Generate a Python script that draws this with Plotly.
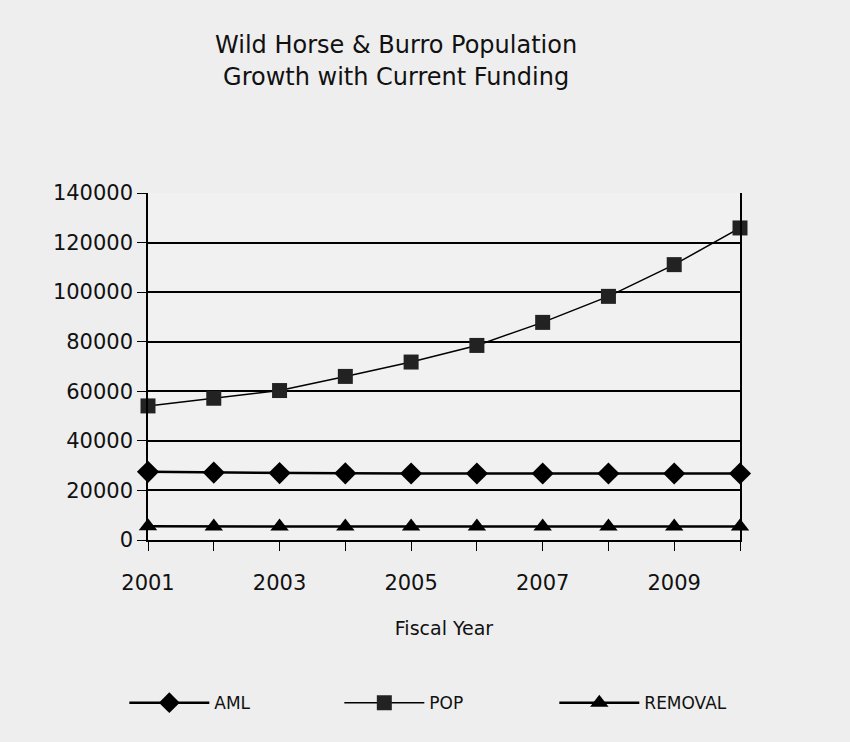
import plotly.graph_objects as go

years = [2001, 2002, 2003, 2004, 2005, 2006, 2007, 2008, 2009, 2010]
aml = [27500, 27200, 27000, 26900, 26800, 26800, 26800, 26800, 26800, 26800]
pop = [54100, 57200, 60300, 66000, 71800, 78500, 87800, 98300, 111100, 125900]
removal = [5500, 5400, 5400, 5400, 5400, 5400, 5400, 5400, 5400, 5400]
y_ticks = [0, 20000, 40000, 60000, 80000, 100000, 120000, 140000]
x_labels = ["2001", "", "2003", "", "2005", "", "2007", "", "2009", ""]

font_family = "DejaVu Sans, Liberation Sans, sans-serif"

fig = go.Figure()
fig.add_trace(go.Scatter(x=years, y=aml, name="AML", mode="lines+markers",
                         line=dict(color="black", width=2.5),
                         marker=dict(symbol="diamond", size=17, color="black"),
                         cliponaxis=False))
fig.add_trace(go.Scatter(x=years, y=pop, name="POP", mode="lines+markers",
                         line=dict(color="black", width=1.5),
                         marker=dict(symbol="square", size=15, color="#222222"),
                         cliponaxis=False))
fig.add_trace(go.Scatter(x=years, y=removal, name="REMOVAL", mode="lines+markers",
                         line=dict(color="black", width=2.5),
                         marker=dict(symbol="triangle-up", size=16, color="black"),
                         cliponaxis=False))

fig.update_layout(
    width=850, height=742,
    paper_bgcolor="#eeeeee", plot_bgcolor="#f1f1f1",
    margin=dict(l=148, r=110, t=193, b=202),
    font=dict(family=font_family, color="#111111"),
    title=dict(text="Wild Horse & Burro Population<br>Growth with Current Funding",
               x=0.466, xanchor="center", y=0.928, yanchor="top",
               font=dict(size=24, color="#111111")),
    xaxis=dict(range=[2001, 2010], tickmode="array", tickvals=years, ticktext=x_labels,
               showgrid=False, zeroline=False, showline=True, linecolor="black", linewidth=2,
               ticks="outside", tickcolor="black", ticklen=9,
               tickfont=dict(size=21), title=dict(text="Fiscal Year", font=dict(size=19), standoff=27),
               ticklabelstandoff=14),
    yaxis=dict(range=[0, 140000], tickvals=y_ticks, ticktext=[str(v) for v in y_ticks],
               showgrid=True, gridcolor="black", gridwidth=1.5, zeroline=False,
               showline=True, linecolor="black", linewidth=1.5, mirror=True,
               ticks="outside", tickcolor="black", ticklen=9, tickfont=dict(size=21)),
    legend=dict(orientation="h", x=-0.04, xanchor="left", y=-0.47, yanchor="middle",
                font=dict(size=17), itemwidth=80, entrywidthmode="pixels", entrywidth=120,
                bgcolor="rgba(0,0,0,0)"),
    showlegend=True,
)

fig.write_html("out.html", config={"displayModeBar": False},
               post_script="document.body.style.margin='0';document.body.style.background='#eeeeee';")
